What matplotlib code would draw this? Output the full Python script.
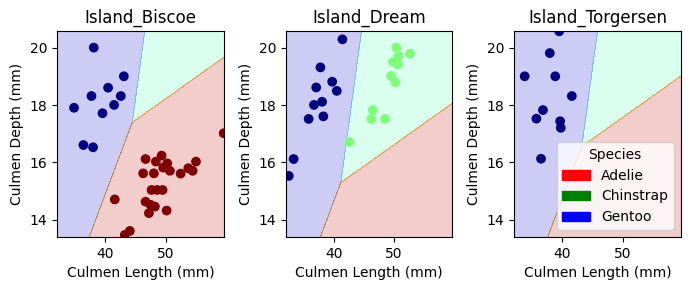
import numpy as np
import matplotlib
matplotlib.use("Agg")
import matplotlib.pyplot as plt
import matplotlib.patches as mpatches

islands = ["Island_Biscoe", "Island_Dream", "Island_Torgersen"]

# culmen length / depth of each penguin, with its class (0, 1, 2)
biscoe_len = [38.13, 43.1, 40.5, 37.75, 42.6, 41.49, 39.57, 34.87, 36.42, 38.01,
              46.69, 49.34, 48.39, 50.27, 46.29, 48.06, 49.6, 50.71, 52.48, 53.75,
              54.47, 55.02, 47.68, 48.61, 49.5, 46.69, 47.52, 48.23, 47.24, 50.17,
              44.09, 41.6, 43.26, 59.6]
biscoe_dep = [20.01, 19.01, 18.61, 18.32, 18.32, 18.01, 17.72, 17.91, 16.61, 16.53,
              16.12, 16.24, 16.03, 15.97, 15.62, 15.62, 15.82, 15.71, 15.61, 15.8,
              15.71, 16.03, 15.04, 15.04, 15.04, 14.63, 14.52, 14.46, 14.23, 14.32,
              13.61, 14.71, 13.47, 17.02]
biscoe_cls = [0] * 10 + [2] * 24

dream_len = [41.46, 37.83, 39.77, 37.13, 40.53, 38.1, 36.76, 38.31, 35.88, 33.4, 32.59,
             42.64, 50.37, 50.7, 52.64, 49.82, 50.63, 49.5, 50.21, 46.48, 46.26, 48.53]
dream_dep = [20.3, 19.32, 18.82, 18.62, 18.5, 18.12, 18.01, 17.61, 17.52, 16.12, 15.53,
             16.71, 20.01, 19.71, 19.8, 19.51, 19.42, 19.02, 18.8, 17.83, 17.52, 17.52]
dream_cls = [0] * 11 + [1] * 11

torg_len = [39.52, 37.97, 33.82, 38.87, 41.61, 36.84, 35.76, 39.68, 39.79, 36.52]
torg_dep = [20.58, 19.82, 19.01, 19.01, 18.32, 17.83, 17.53, 17.44, 17.21, 16.13]
torg_cls = [0] * 10

# linear classifier: score_k = a_k * length + b_k * depth + c_k(island)
coef_len = [-1.55, 0.0, 0.36]
coef_dep = [1.0, 0.0, -2.4]
intercepts = [[51.575, 0.0, 25.74],
              [48.56, 0.0, 21.89],
              [50.49, 0.0, 24.17]]

species = ["Adelie", "Chinstrap", "Gentoo"]
species_colors = ["red", "green", "blue"]

points = [(biscoe_len, biscoe_dep, biscoe_cls),
          (dream_len, dream_dep, dream_cls),
          (torg_len, torg_dep, torg_cls)]

xx, yy = np.meshgrid(np.arange(32.1, 59.6, 0.02), np.arange(13.4, 20.6, 0.02))

fig, axes = plt.subplots(1, 3, figsize=(6.9, 2.9), dpi=100)
for i, ax in enumerate(axes):
    scores = [coef_len[k] * xx + coef_dep[k] * yy + intercepts[i][k] for k in range(3)]
    Z = np.argmax(np.stack(scores), axis=0)
    ax.contourf(xx, yy, Z, alpha=0.2, cmap="jet")
    lx, dy, cl = points[i]
    ax.scatter(lx, dy, c=cl, cmap="jet", vmin=0, vmax=2)
    ax.set_xlim(32.1, 59.6)
    ax.set_ylim(13.4, 20.6)
    ax.set_title(islands[i])
    ax.set_xlabel("Culmen Length (mm)")
    ax.set_ylabel("Culmen Depth (mm)")

handles = [mpatches.Patch(color=c, label=s) for c, s in zip(species_colors, species)]
axes[2].legend(handles=handles, title="Species", loc="lower right")

plt.subplots_adjust(left=0.083, right=0.9865, top=0.894, bottom=0.183, wspace=0.373)
plt.savefig("out.png")
